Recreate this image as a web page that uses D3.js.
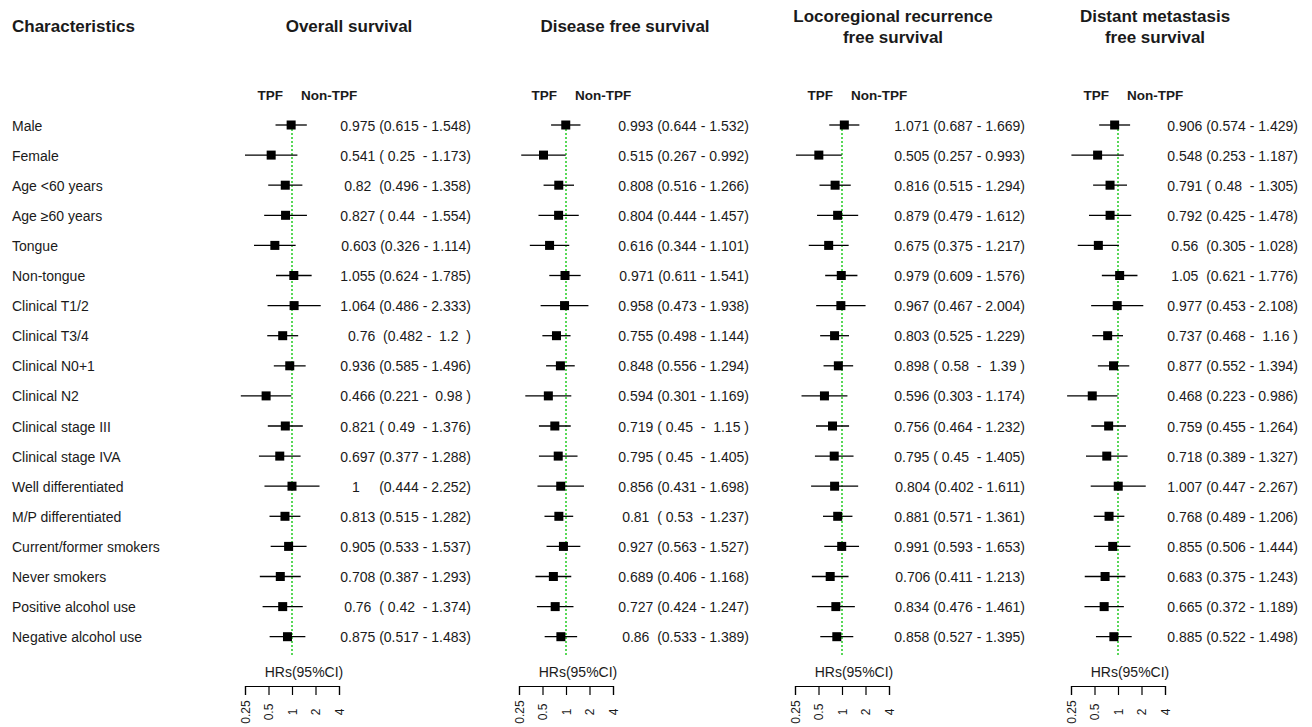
<!DOCTYPE html>
<html><head><meta charset="utf-8">
<script src="https://cdn.jsdelivr.net/npm/d3@7"></script>
<style>
html,body{margin:0;padding:0;background:#fff;}
svg text{font-family:"Liberation Sans",Arial,sans-serif;fill:#1a1a1a;white-space:pre;}
</style>
</head><body>
<svg id="chart" width="1312" height="727"></svg>
<script>
const characteristics = ["Male","Female","Age <60 years","Age \u226560 years","Tongue","Non-tongue","Clinical T1/2","Clinical T3/4","Clinical N0+1","Clinical N2","Clinical stage III","Clinical stage IVA","Well differentiated","M/P differentiated","Current/former smokers","Never smokers","Positive alcohol use","Negative alcohol use"];

const panelTitles = [["Overall survival"],["Disease free survival"],["Locoregional recurrence","free survival"],["Distant metastasis","free survival"]];

const osHR = [0.975,0.541,0.82,0.827,0.603,1.055,1.064,0.76,0.936,0.466,0.821,0.697,1,0.813,0.905,0.708,0.76,0.875];
const osLo = [0.615,0.25,0.496,0.44,0.326,0.624,0.486,0.482,0.585,0.221,0.49,0.377,0.444,0.515,0.533,0.387,0.42,0.517];
const osHi = [1.548,1.173,1.358,1.554,1.114,1.785,2.333,1.2,1.496,0.98,1.376,1.288,2.252,1.282,1.537,1.293,1.374,1.483];

const dfsHR = [0.993,0.515,0.808,0.804,0.616,0.971,0.958,0.755,0.848,0.594,0.719,0.795,0.856,0.81,0.927,0.689,0.727,0.86];
const dfsLo = [0.644,0.267,0.516,0.444,0.344,0.611,0.473,0.498,0.556,0.301,0.45,0.45,0.431,0.53,0.563,0.406,0.424,0.533];
const dfsHi = [1.532,0.992,1.266,1.457,1.101,1.541,1.938,1.144,1.294,1.169,1.15,1.405,1.698,1.237,1.527,1.168,1.247,1.389];

const lrfsHR = [1.071,0.505,0.816,0.879,0.675,0.979,0.967,0.803,0.898,0.596,0.756,0.795,0.804,0.881,0.991,0.706,0.834,0.858];
const lrfsLo = [0.687,0.257,0.515,0.479,0.375,0.609,0.467,0.525,0.58,0.303,0.464,0.45,0.402,0.571,0.593,0.411,0.476,0.527];
const lrfsHi = [1.669,0.993,1.294,1.612,1.217,1.576,2.004,1.229,1.39,1.174,1.232,1.405,1.611,1.361,1.653,1.213,1.461,1.395];

const dmfsHR = [0.906,0.548,0.791,0.792,0.56,1.05,0.977,0.737,0.877,0.468,0.759,0.718,1.007,0.768,0.855,0.683,0.665,0.885];
const dmfsLo = [0.574,0.253,0.48,0.425,0.305,0.621,0.453,0.468,0.552,0.223,0.455,0.389,0.447,0.489,0.506,0.375,0.372,0.522];
const dmfsHi = [1.429,1.187,1.305,1.478,1.028,1.776,2.108,1.16,1.394,0.986,1.264,1.327,2.267,1.206,1.444,1.243,1.189,1.498];

const tickValues = [0.25,0.5,1,2,4];
const tickLabels = ["0.25","0.5","1","2","4"];

const panels = [
  {hr:osHR, lo:osLo, hi:osHi},
  {hr:dfsHR, lo:dfsLo, hi:dfsHi},
  {hr:lrfsHR, lo:lrfsLo, hi:lrfsHi},
  {hr:dmfsHR, lo:dmfsLo, hi:dmfsHi}
];

// layout
const axisStarts = [245, 519, 795, 1071];
const axisWidth = 94;
const textEnds = [471, 749, 1025, 1298];
const titleCenters = [349, 625, 893, 1155];

const svg = d3.select("#chart");

const y = d3.scalePoint().domain(d3.range(characteristics.length)).range([125, 636.7]);

function padHR(s){ while(s.length<5) s += " "; return s; }
function padCI(s){ if(s.length<5){ s = " " + s; while(s.length<6) s += " "; } return s; }
function ciText(h,l,u){ return padHR(String(h)) + " (" + padCI(String(l)) + " - " + padCI(String(u)) + ")"; }

// header
svg.append("text").attr("x",12).attr("y",32).attr("font-size",17).attr("font-weight","bold").text("Characteristics");

// row labels
svg.append("g").selectAll("text").data(characteristics).join("text")
  .attr("x",12).attr("y",(d,i)=>y(i)+5.5).attr("font-size",14).text(d=>d);

panels.forEach((p,k)=>{
  const x0 = axisStarts[k];
  const x = d3.scaleLog().base(2).domain([0.25,4]).range([x0, x0+axisWidth]);
  const g = svg.append("g");

  // title
  const tl = panelTitles[k];
  tl.forEach((t,j)=>{
    const yy = tl.length===1 ? 32 : 22 + j*21;
    g.append("text").attr("x",titleCenters[k]).attr("y",yy).attr("text-anchor","middle")
      .attr("font-size",17).attr("font-weight","bold").text(t);
  });

  // TPF / Non-TPF
  g.append("text").attr("x",x(1)-9).attr("y",100).attr("text-anchor","end")
    .attr("font-size",13.5).attr("font-weight","bold").text("TPF");
  g.append("text").attr("x",x(1)+9).attr("y",100).attr("text-anchor","start")
    .attr("font-size",13.5).attr("font-weight","bold").text("Non-TPF");

  // reference line
  g.append("line").attr("x1",x(1)).attr("x2",x(1)).attr("y1",y(0)).attr("y2",655)
    .attr("stroke","#22cc22").attr("stroke-width",1.5).attr("stroke-dasharray","2,2");

  const idx = d3.range(characteristics.length);
  // whiskers
  g.append("g").selectAll("line").data(idx).join("line")
    .attr("x1",i=>x(p.lo[i])).attr("x2",i=>x(p.hi[i]))
    .attr("y1",i=>y(i)).attr("y2",i=>y(i))
    .attr("stroke","#000").attr("stroke-width",1.3);
  // boxes
  const bs = 9;
  g.append("g").selectAll("rect").data(idx).join("rect")
    .attr("x",i=>x(p.hr[i])-bs/2).attr("y",i=>y(i)-bs/2)
    .attr("width",bs).attr("height",bs).attr("fill","#000");
  // texts
  g.append("g").selectAll("text").data(idx).join("text")
    .attr("xml:space","preserve")
    .attr("x",textEnds[k]).attr("y",i=>y(i)+5.5).attr("text-anchor","end")
    .attr("font-size",14).text(i=>ciText(p.hr[i],p.lo[i],p.hi[i]));

  // HRs label
  g.append("text").attr("x",x0+axisWidth/2+12).attr("y",677).attr("text-anchor","middle")
    .attr("font-size",14).text("HRs(95%CI)");

  // axis
  const ax = g.append("g").attr("transform","translate(0,686)")
    .call(d3.axisBottom(x).tickValues(tickValues).tickSize(9).tickSizeOuter(9)
      .tickFormat((d,i)=>tickLabels[i]));
  ax.select(".domain").attr("stroke","#000").attr("stroke-width",1.2);
  ax.selectAll(".tick line").attr("stroke","#000").attr("stroke-width",1.2);
  ax.selectAll(".tick text")
    .attr("font-size",12).attr("fill","#1a1a1a")
    .attr("font-family","Liberation Sans, Arial, sans-serif")
    .attr("y",0).attr("dy",null)
    .attr("text-anchor","middle").attr("dominant-baseline","central")
    .attr("transform","translate(0,26) rotate(-90)");
});
</script>
</body></html>
